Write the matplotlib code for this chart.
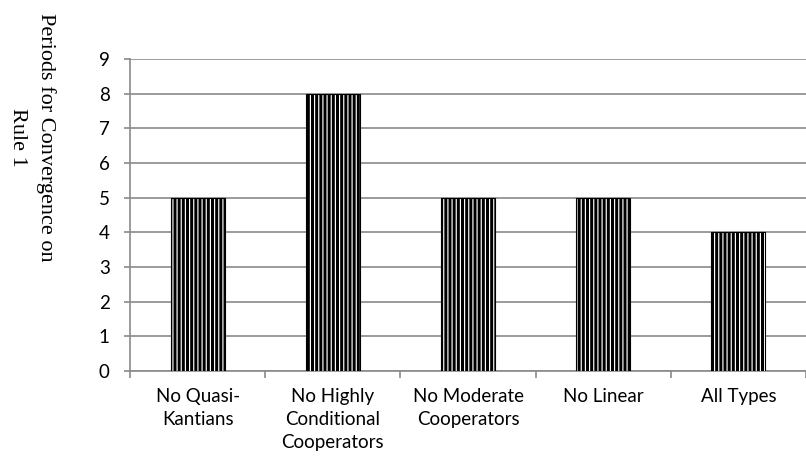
import matplotlib
matplotlib.use("Agg")
import matplotlib.pyplot as plt
import numpy as np

categories = ["No Quasi-\nKantians", "No Highly\nConditional\nCooperators",
              "No Moderate\nCooperators", "No Linear", "All Types"]
values = [5, 8, 5, 5, 4]
y_ticks = list(range(0, 10))
y_label = "Periods for Convergence on\nRule 1"

plt.rcParams['hatch.linewidth'] = 0.85
fig = plt.figure(figsize=(8.06, 4.59), dpi=100)
ax = fig.add_axes([130/806, 88/459, 676/806, 312/459])

x = np.arange(len(categories))
ax.bar(x, values, width=0.4, color='black', edgecolor='white', hatch='||||',
       linewidth=0, zorder=3)
ax.bar(x, values, width=0.4, fill=False, edgecolor='black', linewidth=0.8, zorder=4)

ax.set_ylim(0, 9)
ax.set_xlim(-0.5, 4.5 - 8/136.75)
ax.set_yticks(y_ticks)
ax.yaxis.grid(True, color='#8a8a8a', linewidth=1.2, zorder=0)
ax.set_axisbelow(True)

gc = '#8a8a8a'
for s in ['top', 'right']:
    ax.spines[s].set_visible(False)
for s in ['left', 'bottom']:
    ax.spines[s].set_color(gc)
    ax.spines[s].set_linewidth(1.2)

ax.set_xticks(x)
ax.set_xticklabels(categories, fontfamily='Lato', fontsize=13.5, linespacing=1.45)
ax.set_xticks(np.arange(-0.5, len(categories), 1.0), minor=True)
ax.tick_params(axis='x', which='major', length=0, pad=12)
ax.tick_params(axis='x', which='minor', length=5, color=gc, width=1.2)
ax.tick_params(axis='y', length=4.5, color=gc, width=1.2, pad=10, labelsize=13.5)
for lbl in ax.get_yticklabels():
    lbl.set_fontfamily('Lato')

fig.text(32/806, 1 - 137/459, y_label, rotation=270, ha='center', va='center',
         multialignment='center', fontfamily='Liberation Serif', fontsize=16,
         linespacing=1.6)

fig.savefig("out.png", dpi=100)
